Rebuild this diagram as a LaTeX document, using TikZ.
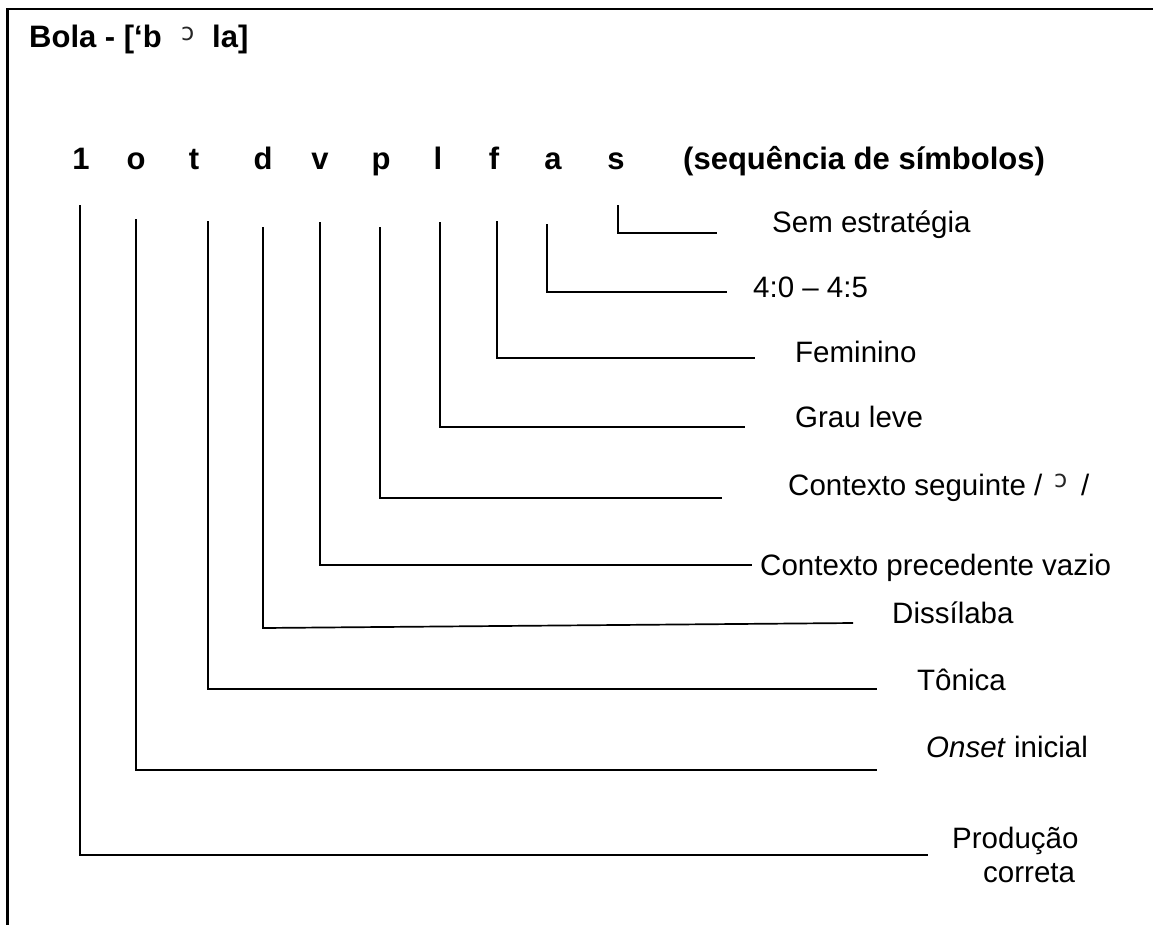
\documentclass[tikz,border=0pt]{standalone}
\usepackage{fontspec}
\setmainfont{Liberation Sans}
\newfontfamily\ipafont{DejaVu Sans}
\begin{document}
\begin{tikzpicture}[x=1pt,y=-1pt,
  lbl/.style={anchor=base west, inner sep=0pt, font=\fontsize{29.5}{35}\selectfont},
  blbl/.style={anchor=base west, inner sep=0pt, font=\fontsize{31}{36}\selectfont\bfseries},
  sym/.style={anchor=base, inner sep=0pt, font=\fontsize{31}{36}\selectfont\bfseries},
  ipa/.style={anchor=base west, inner sep=0pt, text=black!85, font=\fontsize{24}{26}\selectfont\ipafont},
  conn/.style={line width=1.7pt}]
\useasboundingbox (0,0) rectangle (1153,924);
\begin{scope}
  \clip (0,0) rectangle (1153,924);
  \draw[line width=2.6pt] (7.5,9) rectangle (1170,940);
\end{scope}

% title
\node[blbl] (title) at (29,47) {Bola - [‘b};
\node[ipa] (titleipa) at (181,40) {ɔ};
\node[blbl] (titleend) at (212,47) {la]};

% symbol row
\node[sym] (c1) at (81,169) {1};
\node[sym] (co) at (136,169) {o};
\node[sym] (ct) at (194,169) {t};
\node[sym] (cd) at (263,169) {d};
\node[sym] (cv) at (320,169) {v};
\node[sym] (cp) at (381,169) {p};
\node[sym] (cl) at (438,169) {l};
\node[sym] (cf) at (494,169) {f};
\node[sym] (ca) at (553,169) {a};
\node[sym] (cs) at (616,169) {s};
\node[blbl] (seq) at (683,169) {(sequência de símbolos)};

% labels
\node[lbl] (ls) at (772,232) {Sem estratégia};
\node[lbl] (la) at (753,297) {4:0 – 4:5};
\node[lbl] (lf) at (795,362) {Feminino};
\node[lbl] (ll) at (795,427) {Grau leve};
\node[lbl] (lp) at (788,495) {Contexto seguinte /};
\node[ipa] (lpipa) at (1054,487) {ɔ};
\node[lbl] (lpend) at (1081,495) {/};
\node[lbl] (lv) at (760,575) {Contexto precedente vazio};
\node[lbl] (ld) at (892,623) {Dissílaba};
\node[lbl] (lt) at (917,690) {Tônica};
\node[lbl] (lo) at (926,757) {\textit{Onset} inicial};
\node[lbl] (l1a) at (952,848) {Produção};
\node[lbl] (l1b) at (983,882) {correta};

% connector coordinates
\coordinate (t1) at (80,205);   \coordinate (e1) at (928,855);
\coordinate (to) at (136,219);  \coordinate (eo) at (877,770);
\coordinate (tt) at (208,221);  \coordinate (et) at (877,689);
\coordinate (td) at (263,227);  \coordinate (kd) at (263,628); \coordinate (ed) at (853,623);
\coordinate (tv) at (320,222);  \coordinate (ev) at (752,565);
\coordinate (tp) at (380,227);  \coordinate (ep) at (722,498);
\coordinate (tl) at (440,222);  \coordinate (el) at (745,427);
\coordinate (tf) at (497,221);  \coordinate (ef) at (755,358);
\coordinate (ta) at (547,224);  \coordinate (ea) at (727,292);
\coordinate (ts) at (618,205);  \coordinate (es) at (717,233);

\draw[conn] (t1) |- (e1);
\draw[conn] (to) |- (eo);
\draw[conn] (tt) |- (et);
\draw[conn] (td) -- (kd) -- (ed);
\draw[conn] (tv) |- (ev);
\draw[conn] (tp) |- (ep);
\draw[conn] (tl) |- (el);
\draw[conn] (tf) |- (ef);
\draw[conn] (ta) |- (ea);
\draw[conn] (ts) |- (es);
\end{tikzpicture}
\end{document}
